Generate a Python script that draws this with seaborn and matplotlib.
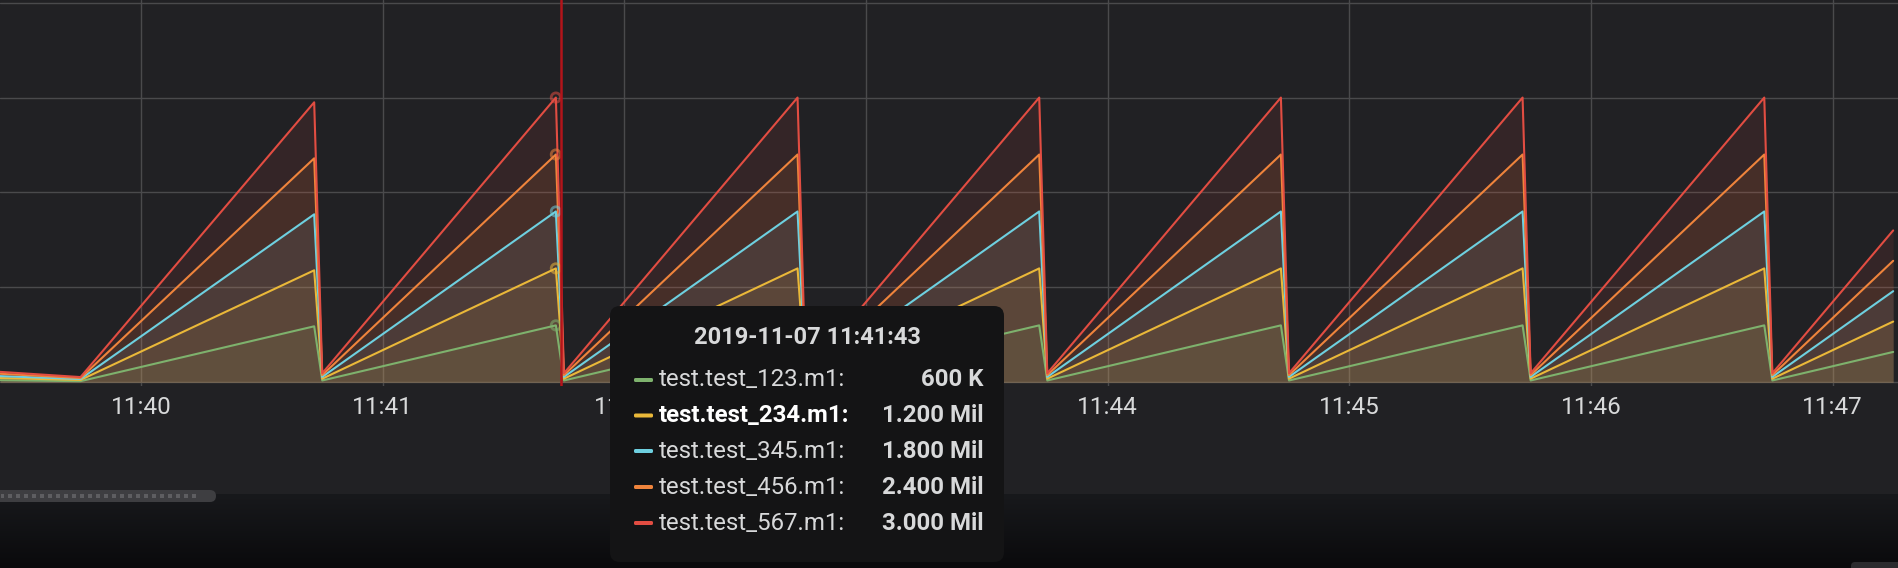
import numpy as np
import pandas as pd
import matplotlib
matplotlib.use("Agg")
import matplotlib.pyplot as plt
import matplotlib.dates as mdates
import matplotlib.colors as colors
from matplotlib.patches import FancyBboxPatch, Rectangle
import seaborn as sns

# data (values in raw units)
times = ["11:39:25", "11:39:45", "11:40:43", "11:40:45", "11:41:43", "11:41:45",
         "11:42:43", "11:42:45", "11:43:43", "11:43:45", "11:44:43", "11:44:45",
         "11:45:43", "11:45:45", "11:46:43", "11:46:45", "11:47:15"]
series_names = ["test.test_123.m1", "test.test_234.m1", "test.test_345.m1",
                "test.test_456.m1", "test.test_567.m1"]
series_colors = ["#7EB26D", "#EAB839", "#6ED0E0", "#EF843C", "#E24D42"]
vals_123 = [22000, 12000, 590000, 19000, 600000, 19000, 600000, 19000, 600000,
            19000, 600000, 19000, 600000, 19000, 600000, 19000, 320000]
vals_234 = [45000, 25000, 1180000, 38000, 1200000, 38000, 1200000, 38000, 1200000,
            38000, 1200000, 38000, 1200000, 38000, 1200000, 38000, 640000]
vals_345 = [65000, 35000, 1770000, 57000, 1800000, 57000, 1800000, 57000, 1800000,
            57000, 1800000, 57000, 1800000, 57000, 1800000, 57000, 960000]
vals_456 = [90000, 45000, 2360000, 76000, 2400000, 76000, 2400000, 76000, 2400000,
            76000, 2400000, 76000, 2400000, 76000, 2400000, 76000, 1280000]
vals_567 = [110000, 55000, 2950000, 95000, 3000000, 95000, 3000000, 95000, 3000000,
            95000, 3000000, 95000, 3000000, 95000, 3000000, 95000, 1600000]
all_vals = [vals_123, vals_234, vals_345, vals_456, vals_567]

day = "2019-11-07"
x_start = "11:39:25"
x_end = "11:47:16.2"
hover_point = "11:41:43"
crosshair = "11:41:44.3"
highlighted = "test.test_234.m1"

W, H = 1898, 568
panel_bg = "#212124"
grid_col = "#4a4a4c"
text_col = "#d8d9da"

sns.set_theme(style="dark")
plt.rcParams["font.family"] = ["Roboto", "DejaVu Sans"]

rows = []
for name, vals in zip(series_names, all_vals):
    for t, v in zip(times, vals):
        rows.append({"time": pd.Timestamp(f"{day} {t}"), "series": name, "value": v})
df = pd.DataFrame(rows)
palette = dict(zip(series_names, series_colors))

fig = plt.figure(figsize=(W / 100, H / 100), dpi=100, facecolor=panel_bg)
ax = fig.add_axes([0, 1 - 386 / H, 1, 386 / H])
ax.set_facecolor(panel_bg)

# translucent fills to zero, like grafana "fill 1"
for name, col in zip(series_names, series_colors):
    d = df[df.series == name]
    ax.fill_between(d.time, d.value, 0, color=col, alpha=0.1, lw=0, zorder=2)

sns.lineplot(data=df, x="time", y="value", hue="series", palette=palette,
             hue_order=series_names, linewidth=1.5, legend=False, ax=ax, zorder=3)

hp = pd.Timestamp(f"{day} {hover_point}")
hdf = df[df.time == hp]
for name, col in zip(series_names, series_colors):
    v = hdf[hdf.series == name].value
    ax.scatter([hp], v, s=45, facecolors="none",
               edgecolors=colors.to_rgba(col, 0.55), linewidths=2, zorder=4)
ax.axvline(pd.Timestamp(f"{day} {crosshair}"), color="#b3141a", lw=1.8, zorder=5)

ax.set_xlim(pd.Timestamp(f"{day} {x_start}"), pd.Timestamp(f"{day} {x_end}"))
ax.set_ylim(-0.039e6, 4.028e6)
ax.set_yticks([0, 1e6, 2e6, 3e6, 4e6])
ax.xaxis.set_major_locator(mdates.MinuteLocator())
ax.xaxis.set_major_formatter(mdates.DateFormatter("%H:%M"))
ax.grid(True, color=grid_col, lw=1.0)
ax.set_axisbelow(True)
ax.tick_params(axis="x", length=0, pad=7, labelsize=17.5, colors=text_col)
ax.tick_params(axis="y", length=0, labelleft=False)
ax.set_xlabel("")
ax.set_ylabel("")
for s in ax.spines.values():
    s.set_visible(False)

# overlay in pixel units for the chrome and the tooltip
ov = fig.add_axes([0, 0, 1, 1], zorder=10)
ov.axis("off")
ov.patch.set_alpha(0)

cm = colors.LinearSegmentedColormap.from_list("bot", ["#18191c", "#0a0a0c"])
grad = np.linspace(0, 1, 100).reshape(-1, 1)
ov.imshow(grad, extent=(0, W, H, 494), aspect="auto", cmap=cm, zorder=1)
ov.set_xlim(0, W)
ov.set_ylim(H, 0)

ov.add_patch(FancyBboxPatch((-20, 490), 236, 12, boxstyle="round,pad=0,rounding_size=6",
                            fc="#3e3e41", ec="none", zorder=2))
for x in np.arange(0.5, 197, 8):
    ov.add_patch(Rectangle((x, 494), 3.5, 3.5, fc="#5e5e61", ec="none", zorder=3))
ov.add_patch(FancyBboxPatch((1851, 562), 80, 20, boxstyle="round,pad=0,rounding_size=4",
                            fc="#2b2b2e", ec="none", zorder=2))

# tooltip
ov.add_patch(FancyBboxPatch((610, 306), 394, 256, boxstyle="round,pad=0,rounding_size=10",
                            fc="#141415", ec="none", zorder=5))
ov.text(807, 337, f"{day} {hover_point}", ha="center", va="center",
        fontsize=17, fontweight="bold", color=text_col, zorder=6)


def fmt(v):
    if v >= 1e6:
        return f"{v / 1e6:.3f} Mil"
    return f"{v / 1e3:.0f} K"


row_y = [380, 415.5, 451, 487, 523]
for y, name, col in zip(row_y, series_names, series_colors):
    v = hdf[hdf.series == name].value.iloc[0]
    bold = name == highlighted
    ov.add_patch(FancyBboxPatch((634, y - 2), 19, 4, boxstyle="round,pad=0,rounding_size=1.5",
                                fc=col, ec="none", zorder=6))
    ov.text(659, y, name + ":", ha="left", va="center", fontsize=17.3,
            fontweight="bold" if bold else "normal",
            color="#ffffff" if bold else text_col, zorder=6)
    ov.text(984, y, fmt(v), ha="right", va="center", fontsize=17.3,
            fontweight="bold", color=text_col, zorder=6)

fig.savefig("out.png", dpi=100, facecolor=panel_bg)
